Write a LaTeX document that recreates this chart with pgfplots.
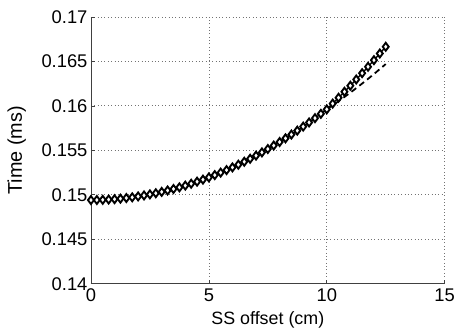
\documentclass[border=0pt]{standalone}
\usepackage{pgfplots}
\pgfplotsset{compat=1.18}
\usepackage{fontspec}
\setmainfont{Liberation Sans}
\begin{document}
\begin{tikzpicture}
\useasboundingbox (-91.7pt,-51pt) rectangle (366pt,286pt);
\begin{axis}[
  at={(0,0)}, anchor=south west,
  scale only axis, width=356.6pt, height=269pt,
  xmin=0, xmax=15, ymin=0.14, ymax=0.17,
  xtick={0,5,10,15}, xticklabels={0,5,10,15},
  ytick={0.14,0.145,0.15,0.155,0.16,0.165,0.17},
  yticklabels={0.14,0.145,0.15,0.155,0.16,0.165,0.17},
  axis x line*=bottom, axis y line*=left,
  axis line style={line width=0.6pt, black!75, -},
  tick align=inside, major tick length=4pt,
  tick style={black!75, line width=0.6pt},
  grid=major, major grid style={black!55, line width=0.7pt, dash pattern=on 0.8pt off 2.6pt},
  tick label style={font=\fontsize{18.5}{21}\selectfont},
  xticklabel style={yshift=-2pt},
  xlabel style={font=\fontsize{18}{21}\selectfont, at={(axis description cs:0.5,-0.137)}, anchor=center},
  ylabel style={font=\fontsize{20}{23}\selectfont, at={(axis description cs:-0.2095,0.5)}, anchor=center},
  xlabel={SS offset (cm)}, ylabel={Time (ms)},
  clip=false,
]
\addplot[black, line width=1.8pt, dash pattern=on 6pt off 4pt] coordinates {
(0,0.14940)(0.5,0.14943)(1,0.14950)(1.5,0.14963)(2,0.14981)(2.5,0.15004)(3,0.15032)(3.5,0.15065)(4,0.15103)(4.5,0.15147)(5,0.15195)(5.5,0.15249)(6,0.15307)(6.5,0.15371)(7,0.15440)(7.5,0.15514)(8,0.15593)(8.5,0.15677)(9,0.15766)(9.5,0.15861)(10,0.15960)
(10.25,0.16005)(10.5,0.16052)(10.75,0.16100)(11,0.16148)(11.25,0.16199)(11.5,0.16250)(11.75,0.16303)(12,0.16357)(12.25,0.16413)(12.5,0.16469)};
\addplot[black, line width=1.4pt, mark=diamond*, mark size=4pt, mark options={fill=white, line width=1.9pt}] coordinates {
(0,0.14940)(0.25,0.14941)(0.5,0.14943)(0.75,0.14946)(1,0.14950)(1.25,0.14956)(1.5,0.14963)(1.75,0.14971)(2,0.14981)(2.25,0.14992)(2.5,0.15004)(2.75,0.15017)(3,0.15032)(3.25,0.15048)(3.5,0.15065)(3.75,0.15083)(4,0.15103)(4.25,0.15124)(4.5,0.15147)(4.75,0.15170)(5,0.15195)(5.25,0.15221)(5.5,0.15249)(5.75,0.15277)(6,0.15307)(6.25,0.15338)(6.5,0.15371)(6.75,0.15405)(7,0.15440)(7.25,0.15476)(7.5,0.15514)(7.75,0.15553)(8,0.15593)(8.25,0.15634)(8.5,0.15677)(8.75,0.15721)(9,0.15766)(9.25,0.15813)(9.5,0.15861)(9.75,0.15910)(10,0.15960)
(10.25,0.16025)(10.5,0.16091)(10.75,0.16158)(11,0.16226)(11.25,0.16296)(11.5,0.16367)(11.75,0.16439)(12,0.16513)(12.25,0.16588)(12.5,0.16664)};
\end{axis}
\end{tikzpicture}
\end{document}
